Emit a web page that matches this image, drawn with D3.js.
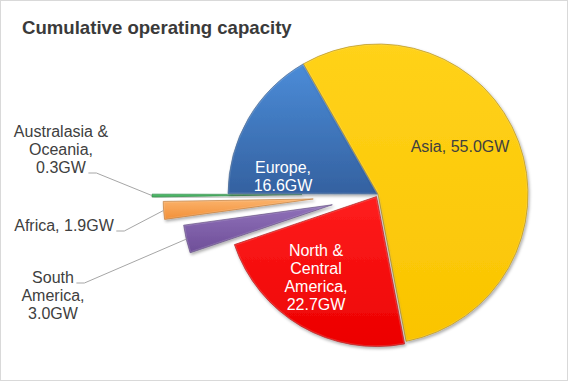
<!DOCTYPE html>
<html><head><meta charset="utf-8">
<script src="https://cdn.jsdelivr.net/npm/d3@7"></script>
<style>
html,body{margin:0;padding:0;background:#fff;}
svg{display:block;font-family:Arial,"Liberation Sans",sans-serif;}
</style></head>
<body><svg id="c" width="568" height="381"></svg>
<script>
// ---- data ----
const title = "Cumulative operating capacity";
const categories = ["Asia", "North & Central America", "South America", "Africa", "Australasia & Oceania", "Europe"];
const values = [55.0, 22.7, 3.0, 1.9, 0.3, 16.6];
const unit = "GW";
const labelLines = [
  ["Asia, 55.0GW"],
  ["North &", "Central", "America,", "22.7GW"],
  ["South", "America,", "3.0GW"],
  ["Africa, 1.9GW"],
  ["Australasia &", "Oceania,", "0.3GW"],
  ["Europe,", "16.6GW"]
];

// ---- styling / layout ----
const colorsTop = ["#FFD21A", "#FF1E1E", "#9072BA", "#FBB36C", "#33B552", "#4B8CD8"];
const colorsBot = ["#FAC400", "#EC0000", "#6E4E98", "#F29038", "#22A044", "#3461A0"];
const strokes   = ["#A88000", "#A00000", "#4E3570", "#B86A20", "#187A30", "#2A4F80"];
const explode   = [0, 3, 47, 65, 76, 0];
const labelColor = ["#404040", "#fff", "#404040", "#404040", "#404040", "#fff"];
const labelPos  = [[460, 152], [316, 256], [53, 283], [64, 231], [61, 137], [283, 173]];
const leaderLine = [null, null, 0, 0, 2, null]; // which text line the leader attaches to
const cx = 378, cy = 194, R = 150, lineH = 18;

const svg = d3.select("#c");
svg.append("rect").attr("x", 0.5).attr("y", 0.5).attr("width", 567).attr("height", 380)
  .attr("fill", "#fff").attr("stroke", "#d9d9d9");

const defs = svg.append("defs");
const f = defs.append("filter").attr("id", "sh").attr("x", "-20%").attr("y", "-20%").attr("width", "140%").attr("height", "140%");
f.append("feDropShadow").attr("dx", 1.2).attr("dy", 1.8).attr("stdDeviation", 1.4)
  .attr("flood-color", "#000").attr("flood-opacity", 0.35);
categories.forEach((c, i) => {
  const g = defs.append("linearGradient").attr("id", "g" + i)
    .attr("x1", 0).attr("y1", 0).attr("x2", 0).attr("y2", 1);
  g.append("stop").attr("offset", "0%").attr("stop-color", colorsTop[i]);
  g.append("stop").attr("offset", "100%").attr("stop-color", colorsBot[i]);
});

svg.append("text").attr("x", 22).attr("y", 34).attr("font-size", 18.6).attr("font-weight", "bold")
  .attr("fill", "#3a3a3a").text(title);

const startA = -29.8 * Math.PI / 180;
const pie = d3.pie().sort(null).value(d => d).startAngle(startA).endAngle(startA + 2 * Math.PI);
const arcs = pie(values);
const arc = d3.arc().innerRadius(0).outerRadius(R);
const edge = d3.arc().innerRadius(R).outerRadius(R);

function offset(d, i) {
  const m = (d.startAngle + d.endAngle) / 2;
  return [explode[i] * Math.sin(m), -explode[i] * Math.cos(m)];
}

const order = [2, 3, 4, 5, 0, 1];
const gp = svg.append("g").attr("transform", `translate(${cx},${cy})`);
order.forEach(i => {
  const d = arcs[i], o = offset(d, i);
  gp.append("path").attr("d", arc(d))
    .attr("transform", `translate(${o[0]},${o[1]})`)
    .attr("fill", `url(#g${i})`).attr("stroke", strokes[i]).attr("stroke-width", 0.7)
    .attr("stroke-linejoin", "round").attr("filter", "url(#sh)");
  gp.append("path").attr("d", arc(d))
    .attr("transform", `translate(${o[0]},${o[1]})`)
    .attr("fill", "none").attr("stroke", "#fff").attr("stroke-opacity", 0.15).attr("stroke-width", 2.5);
});

// labels
const gl = svg.append("g");
arcs.forEach((d, i) => {
  const [lx, ly] = labelPos[i];
  const t = gl.append("text").attr("font-size", 16).attr("fill", labelColor[i]).attr("text-anchor", "middle");
  const spans = labelLines[i].map((s, k) => t.append("tspan").attr("x", lx).attr("y", ly + k * lineH).text(s));
  if (leaderLine[i] !== null) {
    const k = leaderLine[i];
    const w = spans[k].node().getComputedTextLength();
    const x0 = lx + w / 2 + 2.5, y0 = ly + k * lineH;
    const o = offset(d, i);
    const e = edge.centroid(d);
    const x2 = cx + o[0] + e[0], y2 = cy + o[1] + e[1];
    gl.append("path").attr("d", d3.line()([[x0, y0], [x0 + 8, y0], [x2, y2]]))
      .attr("fill", "none").attr("stroke", "#a6a6a6").attr("stroke-width", 1);
  }
});
</script></body></html>
